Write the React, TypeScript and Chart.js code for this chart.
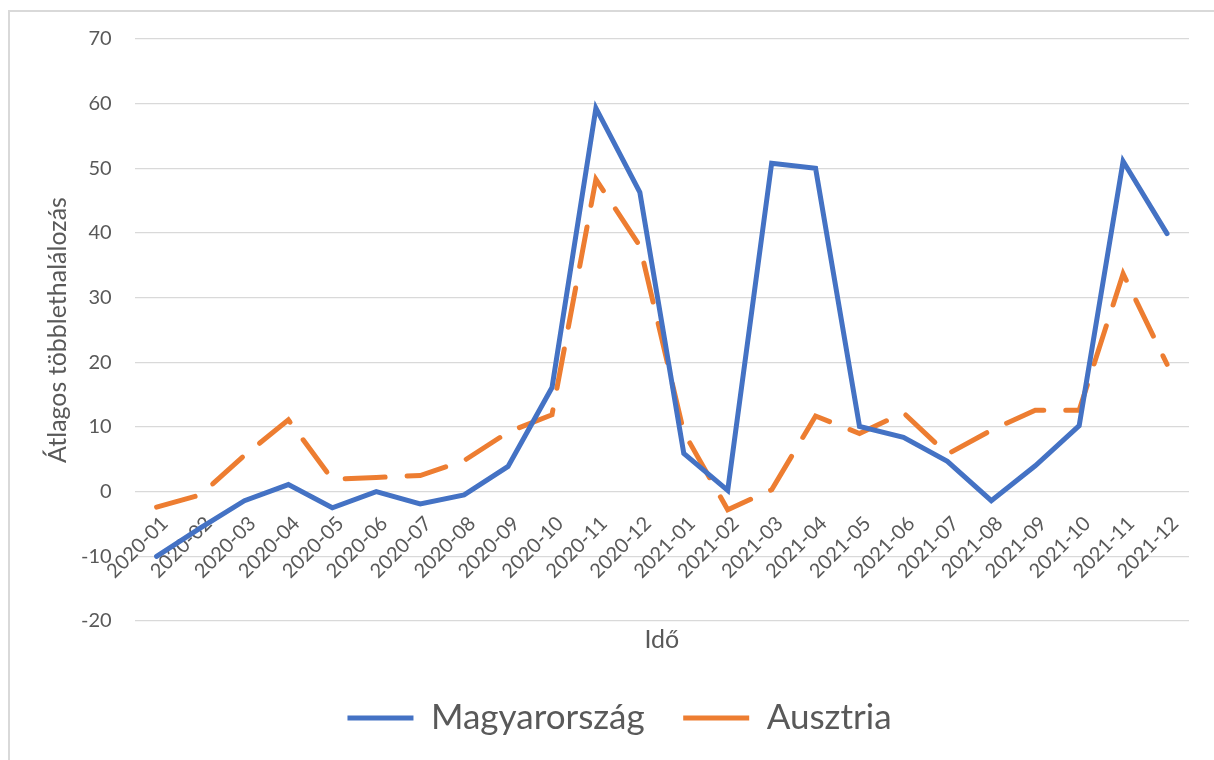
import { useEffect, useRef } from 'react';
import { Chart, registerables } from 'chart.js';

Chart.register(...registerables);

const months = [
  '2020-01', '2020-02', '2020-03', '2020-04', '2020-05', '2020-06',
  '2020-07', '2020-08', '2020-09', '2020-10', '2020-11', '2020-12',
  '2021-01', '2021-02', '2021-03', '2021-04', '2021-05', '2021-06',
  '2021-07', '2021-08', '2021-09', '2021-10', '2021-11', '2021-12',
];
const hungary = [
  -10.0, -5.6, -1.4, 1.1, -2.5, 0.0, -1.9, -0.5, 3.9, 16.1, 59.3, 46.3,
  5.9, 0.2, 50.8, 50.0, 10.1, 8.4, 4.7, -1.4, 4.0, 10.2, 51.1, 39.9,
];
const austria = [
  -2.4, -0.5, 5.6, 11.1, 1.9, 2.2, 2.5, 4.8, 9.2, 11.9, 48.3, 38.0,
  9.2, -2.8, 0.3, 11.7, 9.0, 12.2, 5.8, 9.5, 12.6, 12.6, 33.7, 19.7,
];
const seriesNames = ['Magyarország', 'Ausztria'];
const yMin = -20;
const yMax = 70;
const yStep = 10;
const xTitle = 'Idő';
const yTitle = 'Átlagos többlethalálozás';

const FONT = 'Lato, sans-serif';
const TEXT = '#595959';
const GRID = '#d9d9d9';
const BLUE = '#4472C4';
const ORANGE = '#ED7D31';

export default function App() {
  const ref = useRef<HTMLCanvasElement>(null);
  useEffect(() => {
    const chart = new Chart(ref.current as HTMLCanvasElement, {
      type: 'line',
      data: {
        labels: months,
        datasets: [
          {
            label: seriesNames[0],
            data: hungary,
            borderColor: BLUE,
            backgroundColor: BLUE,
            borderWidth: 5,
            borderCapStyle: 'round',
            pointRadius: 0,
            pointStyle: 'line',
            tension: 0,
          },
          {
            label: seriesNames[1],
            data: austria,
            borderColor: ORANGE,
            backgroundColor: ORANGE,
            borderWidth: 5,
            borderDash: [40, 22],
            borderCapStyle: 'round',
            pointRadius: 0,
            pointStyle: 'line',
            tension: 0,
          },
        ],
      },
      options: {
        animation: false,
        responsive: true,
        maintainAspectRatio: false,
        events: [],
        layout: { padding: { left: 40, right: 25, top: 27, bottom: 14.5 } },
        scales: {
          x: {
            type: 'category',
            offset: true,
            position: { y: 0 },
            grid: { display: false, drawTicks: false },
            border: { display: false },
            ticks: {
              minRotation: 45,
              maxRotation: 45,
              autoSkip: false,
              padding: 20,
              labelOffset: 8,
              color: TEXT,
              font: { family: FONT, size: 20 },
            },
          },
          x2: {
            type: 'linear',
            position: 'bottom',
            min: 0,
            max: 1,
            grid: { display: false, drawTicks: false },
            border: { display: false },
            ticks: { display: false },
            title: {
              display: true,
              text: xTitle,
              color: TEXT,
              font: { family: FONT, size: 25 },
              padding: { top: 4, bottom: 7 },
            },
          },
          y: {
            min: yMin,
            max: yMax,
            ticks: {
              stepSize: yStep,
              color: TEXT,
              padding: 23,
              font: { family: FONT, size: 20, lineHeight: 0.4 },
            },
            grid: { color: GRID, lineWidth: 1.3, drawTicks: false },
            border: { display: false },
            title: {
              display: true,
              text: yTitle,
              color: TEXT,
              font: { family: FONT, size: 25 },
              padding: { top: -7, bottom: -15 },
            },
          },
        },
        plugins: {
          legend: {
            position: 'bottom',
            labels: {
              usePointStyle: true,
              pointStyleWidth: 66,
              boxHeight: 10,
              padding: 38.5,
              color: TEXT,
              font: { family: FONT, size: 35 },
            },
          },
          tooltip: { enabled: false },
        },
      },
    });
    return () => chart.destroy();
  }, []);
  return (
    <div
      style={{
        position: 'absolute',
        left: 8,
        top: 10,
        width: 1206,
        height: 750,
        borderLeft: '2px solid #d9d9d9',
        borderTop: '2px solid #d9d9d9',
        boxSizing: 'border-box',
      }}
    >
      <div style={{ position: 'relative', width: 1204, height: 748 }}>
        <canvas ref={ref} />
      </div>
    </div>
  );
}
